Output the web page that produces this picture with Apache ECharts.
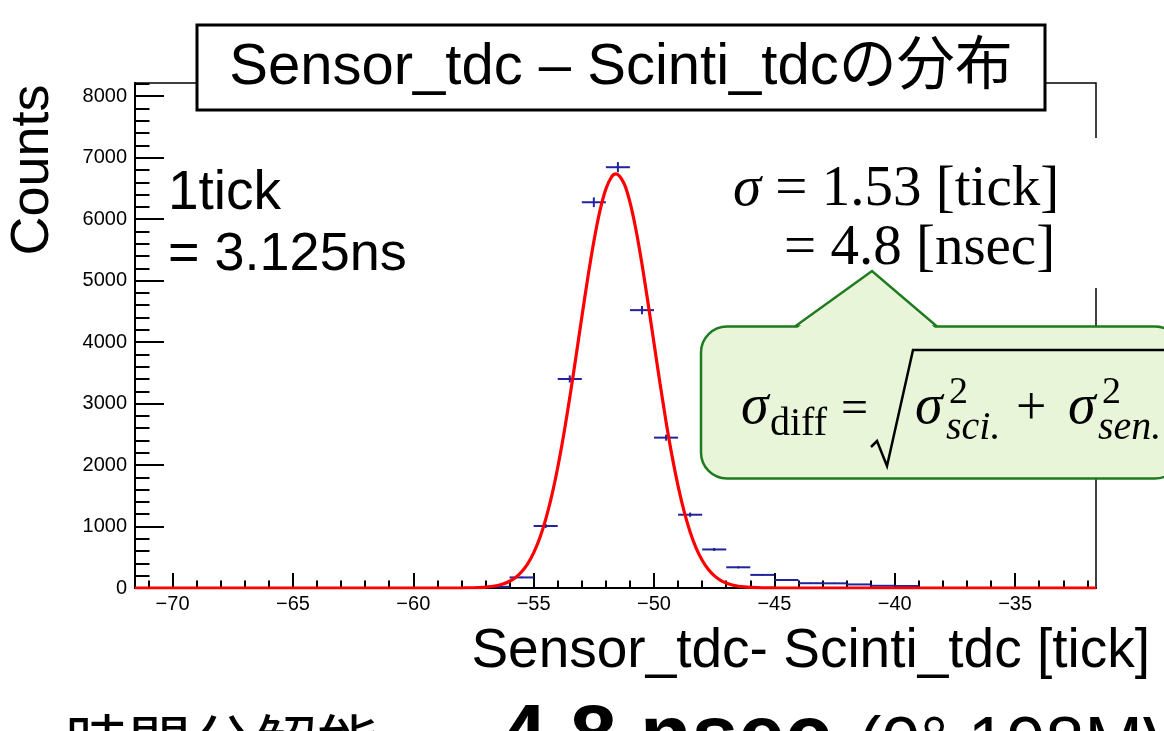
<!DOCTYPE html>
<html>
<head>
<meta charset="utf-8">
<script src="https://cdn.jsdelivr.net/npm/echarts@6/dist/echarts.min.js"></script>
<style>
html, body { margin: 0; padding: 0; background: #fff; }
#main { width: 1164px; height: 731px; }
</style>
</head>
<body>
<div id="main"></div>
<script>
// histogram bins (bin width 1 tick)
var binCenters = [-56.5, -55.5, -54.5, -53.5, -52.5, -51.5, -50.5, -49.5, -48.5, -47.5, -46.5, -45.5, -44.5, -43.5, -42.5, -41.5, -40.5, -39.5];
var binCounts = [20, 172, 1009, 3400, 6275, 6845, 4520, 2446, 1192, 627, 337, 213, 130, 78, 76, 58, 36, 33];
var binErrors = [4, 13, 32, 58, 79, 83, 67, 49, 35, 25, 18, 15, 11, 9, 9, 8, 6, 6];

// fitted curve (red)
var curveX = [-71.56, -60, -58, -57.5, -57, -56.5, -56.25, -56, -55.75, -55.5, -55.25, -55, -54.75, -54.5, -54.25, -54, -53.75, -53.5, -53.25, -53, -52.75, -52.5, -52.25, -52, -51.75, -51.58, -51.25, -51, -50.75, -50.5, -50.25, -50, -49.75, -49.5, -49.25, -49, -48.75, -48.5, -48.25, -48, -47.75, -47.5, -47.25, -47, -46.75, -46.5, -46.25, -46, -45.5, -45, -43, -31.64];
var curveY = [0, 0, 1, 4, 14, 41, 68, 110, 172, 264, 394, 572, 810, 1117, 1499, 1961, 2496, 3097, 3742, 4405, 5049, 5637, 6130, 6492, 6697, 6738, 6585, 6277, 5827, 5269, 4641, 3980, 3326, 2706, 2145, 1656, 1245, 912, 650, 452, 306, 202, 129, 81, 49, 29, 17, 10, 3, 1, 0, 0];

// axis ticks
var xMajor = [-70, -65, -60, -55, -50, -45, -40, -35];
var yMajor = [0, 1000, 2000, 3000, 4000, 5000, 6000, 7000, 8000];
var X_MIN = -71.56, X_MAX = -31.64;
var Y_MIN = 0, Y_MAX = 8215;

var xMinor = [];
for (var i = -71; i <= -32; i++) xMinor.push(i);
var yMinor = [];
for (var j = 0; j <= 8200; j += 200) yMinor.push(j);

var SANS = '"Liberation Sans", "Noto Sans CJK JP", sans-serif';
var SERIF = '"Liberation Serif", "DejaVu Serif", serif';

var histData = [];
for (var k = 0; k < binCenters.length; k++) {
	histData.push([binCenters[k], binCounts[k], binErrors[k]]);
}
var curveData = [];
for (var m = 0; m < curveX.length; m++) {
	curveData.push([curveX[m], curveY[m]]);
}

function minusSign(v) {
	return String(v).replace('-', '\u2212');
}

//文字
function txt(x, y, s, size, opt) {
	opt = opt || {};
	return {
		type: 'text', z: opt.z || 11, x: x, y: y, rotation: opt.rot || 0,
		style: {
			text: s, fill: '#000',
			fontFamily: opt.family || SANS, fontSize: size,
			fontStyle: opt.italic ? 'italic' : 'normal',
			fontWeight: opt.bold ? 'bold' : 'normal',
			align: opt.align || 'left', verticalAlign: 'middle',
			rich: opt.rich
		}
	};
}

var myChart = echarts.init(document.getElementById('main'));

var option = {
	animation: false,
	backgroundColor: '#fff',
	grid: {
		left: 135, top: 83, width: 961, height: 505,
		show: true, borderColor: '#000', borderWidth: 1.5,
		backgroundColor: 'transparent'
	},
	xAxis: [{
		type: 'value', min: X_MIN, max: X_MAX, position: 'bottom',
		axisLine: { show: true, onZero: false, lineStyle: { color: '#000', width: 2 } },
		axisTick: { show: true, inside: true, length: 15, customValues: xMajor, lineStyle: { color: '#000', width: 2 } },
		axisLabel: { customValues: xMajor, formatter: minusSign, color: '#000', fontSize: 20, fontFamily: SANS, margin: 6 },
		splitLine: { show: false }
	}, {
		type: 'value', min: X_MIN, max: X_MAX, position: 'bottom',
		axisLine: { show: false },
		axisTick: { show: true, inside: true, length: 7.5, customValues: xMinor, lineStyle: { color: '#000', width: 2 } },
		axisLabel: { show: false },
		splitLine: { show: false }
	}],
	yAxis: [{
		type: 'value', min: Y_MIN, max: Y_MAX, position: 'left',
		axisLine: { show: true, onZero: false, lineStyle: { color: '#000', width: 2 } },
		axisTick: { show: true, inside: true, length: 29, customValues: yMajor, lineStyle: { color: '#000', width: 2 } },
		axisLabel: { customValues: yMajor, formatter: function(v) { return String(v); }, color: '#000', fontSize: 20, fontFamily: SANS, margin: 8 },
		splitLine: { show: false }
	}, {
		type: 'value', min: Y_MIN, max: Y_MAX, position: 'left',
		axisLine: { show: false },
		axisTick: { show: true, inside: true, length: 14.5, customValues: yMinor, lineStyle: { color: '#000', width: 2 } },
		axisLabel: { show: false },
		splitLine: { show: false }
	}],
	series: [{
		//誤差棒
		type: 'custom',
		name: 'hist',
		data: histData,
		z: 3,
		renderItem: function(params, api) {
			var x = api.value(0), y = api.value(1), e = api.value(2);
			var a = api.coord([x - 0.5, y]);
			var b = api.coord([x + 0.5, y]);
			var c = api.coord([x, y - e]);
			var d = api.coord([x, y + e]);
			var st = { stroke: '#23239c', lineWidth: 2 };
			return {
				type: 'group',
				children: [
					{ type: 'line', shape: { x1: a[0], y1: a[1], x2: b[0], y2: b[1] }, style: st },
					{ type: 'line', shape: { x1: c[0], y1: c[1], x2: d[0], y2: d[1] }, style: st }
				]
			};
		}
	}, {
		//フィット
		type: 'line',
		name: 'fit',
		data: curveData,
		z: 4,
		showSymbol: false,
		smooth: 0.3,
		clip: true,
		lineStyle: { color: '#ff0000', width: 3.2 }
	}],
	graphic: [
		// タイトル
		{ type: 'rect', z: 10, shape: { x: 197, y: 25, width: 848, height: 85 }, style: { fill: '#fff', stroke: '#000', lineWidth: 3 } },
		txt(621, 68, 'Sensor_tdc \u2013 Scinti_tdcの分布', 58, { align: 'center' }),
		// 軸タイトル
		txt(33, 170, 'Counts', 54, { align: 'center', rot: Math.PI / 2 }),
		txt(1150, 652, 'Sensor_tdc- Scinti_tdc [tick]', 55, { align: 'right' }),
		// 1tick
		txt(168, 194, '1tick', 55),
		txt(168, 255, '= 3.125ns', 54),
		// σ
		{ type: 'rect', z: 10, shape: { x: 705, y: 138, width: 415, height: 150 }, style: { fill: '#fff' } },
		txt(733, 190, '{i|σ} = 1.53 [tick]', 57, { family: SERIF, rich: { i: { fontStyle: 'italic', fontFamily: SERIF, fontSize: 57 } } }),
		txt(784, 249, '= 4.8 [nsec]', 57, { family: SERIF }),
		// 吹き出し
		{ type: 'rect', z: 12, shape: { x: 701, y: 326.5, width: 480, height: 152, r: 26 }, style: { fill: '#e9f5d9', stroke: '#1e7b1e', lineWidth: 2.5 } },
		{ type: 'polygon', z: 13, shape: { points: [[796, 329], [872, 271], [936, 329]] }, style: { fill: '#e9f5d9' } },
		{ type: 'polyline', z: 13, shape: { points: [[795, 326.5], [872, 271], [937, 326.5]] }, style: { stroke: '#1e7b1e', lineWidth: 2.5, fill: null } },
		txt(741, 408, 'σ', 56, { family: SERIF, italic: true, z: 14 }),
		txt(770, 424, 'diff', 40, { family: SERIF, z: 14 }),
		txt(841, 410, '=', 48, { family: SERIF, z: 14 }),
		{ type: 'polyline', z: 14, shape: { points: [[871, 447], [877, 441], [887, 466], [913, 350], [1175, 350]] }, style: { stroke: '#000', lineWidth: 2.5, fill: null } },
		txt(915, 408, 'σ', 56, { family: SERIF, italic: true, z: 14 }),
		txt(949, 393, '2', 38, { family: SERIF, z: 14 }),
		txt(946, 428, 'sci.', 40, { family: SERIF, italic: true, z: 14 }),
		txt(1016, 410, '+', 54, { family: SERIF, z: 14 }),
		txt(1068, 408, 'σ', 56, { family: SERIF, italic: true, z: 14 }),
		txt(1102, 393, '2', 38, { family: SERIF, z: 14 }),
		txt(1098, 428, 'sen.', 40, { family: SERIF, italic: true, z: 14 }),
		// 下の文字（切れている）
		txt(65, 743, '時間分解能', 63, { family: '"Noto Sans CJK JP"' }),
		txt(500, 740, '4.8 nsec', 84, { bold: true }),
		txt(858, 747, '(0° 198MV', 70)
	]
};

myChart.setOption(option);
</script>
</body>
</html>
